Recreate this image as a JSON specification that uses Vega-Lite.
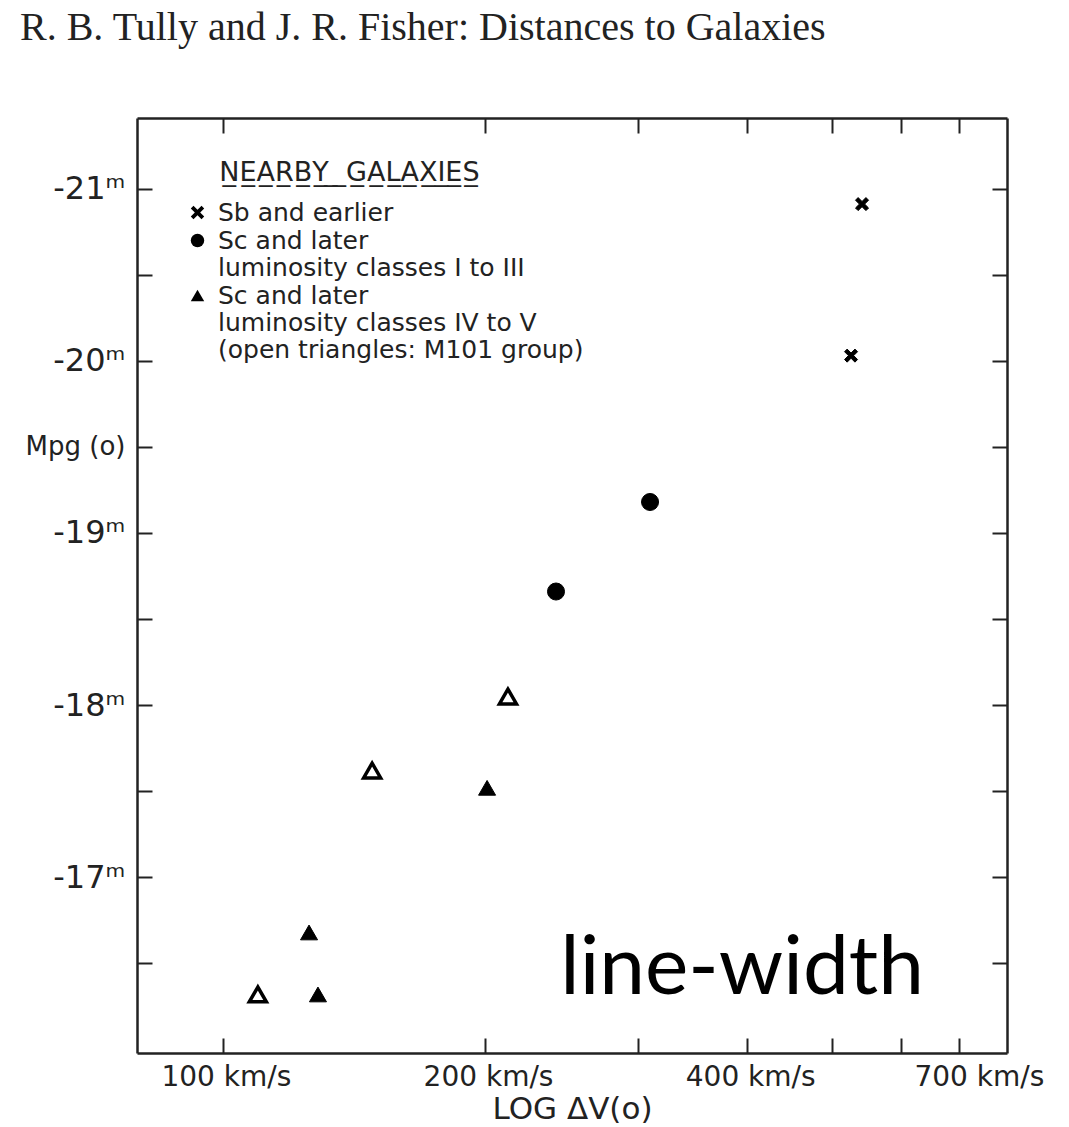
{
  "$schema": "https://vega.github.io/schema/vega-lite/v6.json",
  "width": 870,
  "height": 935,
  "autosize": {"type": "none"},
  "padding": {"left": 137, "top": 118, "right": 62, "bottom": 74},
  "background": "white",
  "config": {"view": {"stroke": null}, "axis": {"grid": false}},
  "title": {
    "text": "R. B. Tully and J. R. Fisher: Distances to Galaxies",
    "font": "Liberation Serif",
    "fontSize": 40,
    "fontWeight": "normal",
    "color": "#222",
    "anchor": "start",
    "frame": "group",
    "baseline": "alphabetic",
    "dx": -117,
    "offset": 37
  },
  "layer": [
    {
      "data": {
        "values": [
          {"v": 541.9, "M": -20.91, "cls": "Sb", "group": ""},
          {"v": 526.4, "M": -20.03, "cls": "Sb", "group": ""},
          {"v": 309.4, "M": -19.18, "cls": "ScI", "group": ""},
          {"v": 241.3, "M": -18.66, "cls": "ScI", "group": ""},
          {"v": 201.1, "M": -17.52, "cls": "ScIV", "group": ""},
          {"v": 125.6, "M": -16.68, "cls": "ScIV", "group": ""},
          {"v": 128.6, "M": -16.32, "cls": "ScIV", "group": ""},
          {"v": 212.5, "M": -18.05, "cls": "ScIV", "group": "M101"},
          {"v": 148.4, "M": -17.62, "cls": "ScIV", "group": "M101"},
          {"v": 109.7, "M": -16.32, "cls": "ScIV", "group": "M101"}
        ]
      },
      "mark": {"type": "point", "filled": true, "stroke": "black", "opacity": 1},
      "encoding": {
        "x": {
          "field": "v",
          "type": "quantitative",
          "scale": {"type": "log", "domain": [79.7, 795], "nice": false},
          "axis": {
            "orient": "bottom",
            "values": [100, 200, 300, 400, 500, 600, 700],
            "labelExpr": "indexof([100, 200, 400, 700], datum.value) >= 0 ? datum.value + ' km/s' : ''",
            "labelFont": "DejaVu Sans",
            "labelFontSize": 28,
            "labelColor": "#222",
            "labelFlush": false,
            "labelOverlap": false,
            "labelBaseline": "top",
            "labelOffset": {"condition": {"test": "datum.value === 700", "value": 20}, "value": 3},
            "tickSize": -15,
            "tickWidth": 2,
            "tickColor": "#222",
            "labelPadding": 25,
            "domainColor": "#222",
            "domainWidth": 2.5,
            "title": "LOG  ΔV(o)",
            "titleFont": "DejaVu Sans",
            "titleFontSize": 31,
            "titleFontWeight": "normal",
            "titleColor": "#222",
            "titlePadding": 3
          }
        },
        "y": {
          "field": "M",
          "type": "quantitative",
          "scale": {"domain": [-21.41, -15.98], "reverse": true, "nice": false, "zero": false},
          "axis": {
            "orient": "left",
            "values": [-21, -20.5, -20, -19.5, -19, -18.5, -18, -17.5, -17, -16.5],
            "labelExpr": "datum.value === -19.5 ? 'Mpg (o)' : (datum.value % 1 === 0 ? datum.value + 'ᵐ' : '')",
            "labelFont": "DejaVu Sans",
            "labelFontSize": {"condition": {"test": "datum.value === -19.5", "value": 26}, "value": 32},
            "labelColor": "#222",
            "labelFlush": false,
            "labelOverlap": false,
            "tickSize": -15,
            "tickWidth": 2,
            "tickColor": "#222",
            "labelPadding": 27,
            "domainColor": "#222",
            "domainWidth": 2.5,
            "title": null
          }
        },
        "shape": {
          "field": "cls",
          "type": "nominal",
          "scale": {
            "domain": ["Sb", "ScI", "ScIV"],
            "range": ["M-1,-0.6L-0.6,-1L0,-0.4L0.6,-1L1,-0.6L0.4,0L1,0.6L0.6,1L0,0.4L-0.6,1L-1,0.6L-0.4,0Z", "circle", "triangle-up"]
          },
          "legend": {
            "title": "\u200b\u00a0\u00a0\u00a0\u00a0N̲E̲A̲R̲B̲Y̲\u00a0\u0332\u00a0\u0332G̲A̲L̲A̲X̲I̲E̲S̲",
            "orient": "none",
            "legendX": 48,
            "legendY": 42,
            "padding": 0,
            "titleFont": "DejaVu Sans",
            "titleFontSize": 27,
            "titleFontWeight": "normal",
            "titleColor": "#222",
            "titleLimit": 0,
            "titlePadding": 13,
            "labelExpr": "datum.value === 'Sb' ? ['Sb and earlier'] : datum.value === 'ScI' ? ['Sc and later', 'luminosity classes I to III'] : ['Sc and later', 'luminosity classes IV to V', '(open triangles: M101 group)']",
            "labelFont": "DejaVu Sans",
            "labelFontSize": 25,
            "labelColor": "#222",
            "labelLimit": 0,
            "labelOffset": 8,
            "symbolSize": 180,
            "symbolFillColor": "black",
            "symbolStrokeColor": "black",
            "symbolStrokeWidth": 1,
            "rowPadding": 2
          }
        },
        "size": {"condition": {"test": "datum.cls === 'Sb'", "value": 170}, "value": 290},
        "fill": {"condition": {"test": "datum.group === 'M101'", "value": "white"}, "value": "black"},
        "strokeWidth": {"condition": {"test": "datum.group === 'M101'", "value": 3.5}, "value": 1}
      }
    },
    {
      "data": {"values": [{"note": "line-width"}]},
      "mark": {"type": "text", "font": "Lato", "fontSize": 82, "color": "black", "align": "center", "baseline": "alphabetic"},
      "encoding": {
        "text": {"field": "note"},
        "x": {
          "datum": 394.7,
          "type": "quantitative",
          "axis": {
            "orient": "top",
            "values": [100, 200, 300, 400, 500, 600, 700],
            "labels": false,
            "tickSize": -15,
            "tickWidth": 2,
            "tickColor": "#222",
            "domainColor": "#222",
            "domainWidth": 2.5,
            "title": null
          }
        },
        "y": {
          "datum": -16.32,
          "type": "quantitative",
          "axis": {
            "orient": "right",
            "values": [-21, -20.5, -20, -19.5, -19, -18.5, -18, -17.5, -17, -16.5],
            "labels": false,
            "tickSize": -15,
            "tickWidth": 2,
            "tickColor": "#222",
            "domainColor": "#222",
            "domainWidth": 2.5,
            "title": null
          }
        }
      }
    }
  ],
  "resolve": {"axis": {"x": "independent", "y": "independent"}}
}
